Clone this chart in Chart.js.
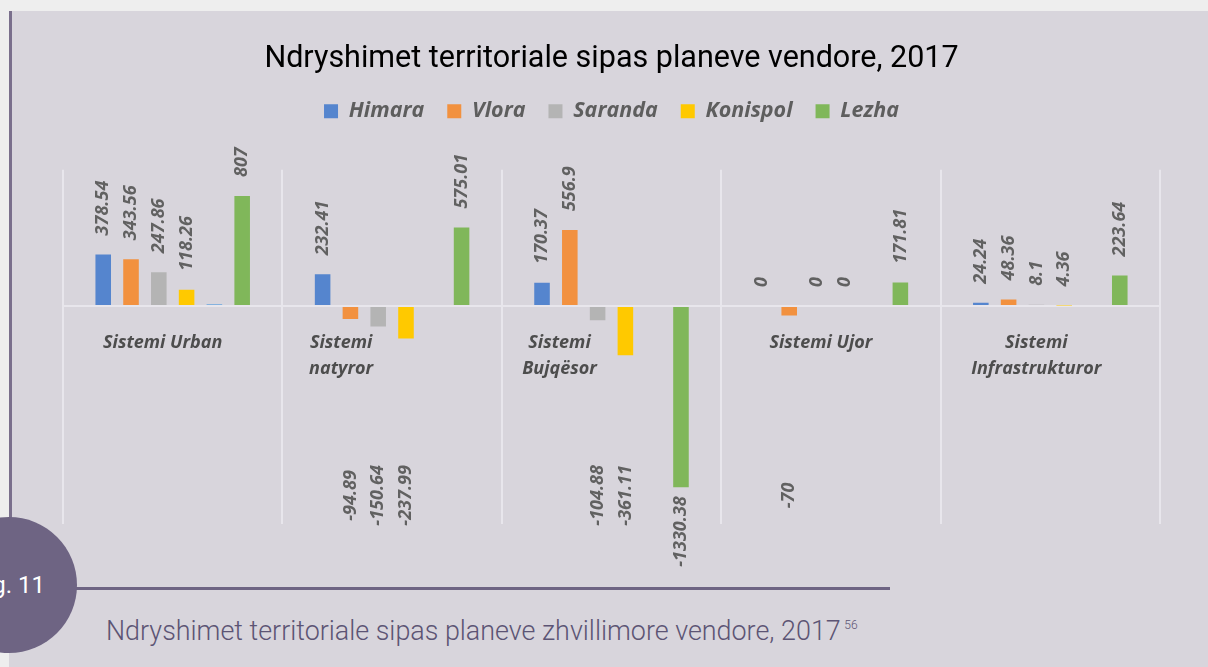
<!DOCTYPE html>
<html><head><meta charset="utf-8">
<script src="https://cdn.jsdelivr.net/npm/chart.js@4.4.0/dist/chart.umd.min.js"></script>
<style>
html,body{margin:0;padding:0;width:1208px;height:667px;overflow:hidden;background:#EEEEEE;}
#panel{position:absolute;left:9px;top:11px;width:1199px;height:656px;background:#D8D5DC;}
#vline{position:absolute;left:9px;top:11px;width:3px;height:510px;background:#7A6F8C;}
#hline{position:absolute;left:70px;top:587px;width:820px;height:3px;background:#6E6483;}
#circle{position:absolute;left:-59px;top:517px;width:136px;height:136px;border-radius:50%;background:#6E6483;color:#fff;font:24px Roboto;display:flex;align-items:center;justify-content:center;}
#caption{position:absolute;left:106px;top:615px;font:300 26.9px Roboto;color:#5C5474;white-space:nowrap;}
#caption sup{font-size:12px;vertical-align:11px;margin-left:-3px;}
#wrap{position:absolute;left:0;top:0;width:1208px;height:667px;}
</style></head>
<body>
<div id="panel"></div>
<div id="vline"></div>
<div id="hline"></div>
<div id="circle">Fig. 11</div>
<div id="caption">Ndryshimet territoriale sipas planeve zhvillimore vendore, 2017 <sup>56</sup></div>
<div id="wrap"><canvas id="c" width="1208" height="667"></canvas></div>
<script>
// ---- data ----
const categories = [['Sistemi Urban'], ['Sistemi', 'natyror'], ['Sistemi', 'Bujqësor'], ['Sistemi Ujor'], ['Sistemi', 'Infrastrukturor']];
const seriesNames = ['Himara', 'Vlora', 'Saranda', 'Konispol', '', 'Lezha'];
const himara   = [378.54, 232.41, 170.37, 0, 24.24];
const vlora    = [343.56, -94.89, 556.9, -70, 48.36];
const saranda  = [247.86, -150.64, -104.88, 0, 8.1];
const konispol = [118.26, -237.99, -361.11, 0, 4.36];
const other    = [12, null, null, null, null];
const lezha    = [807, 575.01, -1330.38, 171.81, 223.64];
const yMin = -1600, yMax = 1000;

// ---- style / layout ----
const colors = ['#5585CE', '#F2913F', '#B4B4B4', '#FFC900', '#6AA6DF', '#80B75A'];
const labelShift = [-10, -51, -52, -10, -14];
const negLabelCenter = -1390;

const values = [himara, vlora, saranda, konispol, other, lezha];
const datasets = values.map((d, i) => ({
  label: seriesNames[i],
  data: d,
  backgroundColor: colors[i],
  showLabels: seriesNames[i] !== '',
  categoryPercentage: 0.76,
  barPercentage: 0.56
}));

const valueLabels = {
  id: 'valueLabels',
  afterDatasetsDraw(chart) {
    const ctx = chart.ctx, ys = chart.scales.y;
    ctx.save();
    ctx.font = 'italic bold 18px "Open Sans"';
    ctx.fillStyle = '#616161';
    ctx.textBaseline = 'middle';
    ctx.textAlign = 'left';
    chart.data.datasets.forEach((ds, di) => {
      if (!ds.showLabels) return;
      const meta = chart.getDatasetMeta(di);
      meta.data.forEach((bar, i) => {
        const v = ds.data[i];
        if (v === null || v === undefined) return;
        const txt = String(v);
        const w = ctx.measureText(txt).width;
        let start;
        if (v >= 0) start = bar.y - 19;
        else {
          const c = ys.getPixelForValue(negLabelCenter);
          if (bar.y + 9 > c - w / 2) start = bar.y + 9 + w;
          else start = c + w / 2;
        }
        ctx.save();
        ctx.translate(bar.x, start);
        ctx.rotate(-Math.PI / 2);
        ctx.fillText(txt, 0, 0);
        ctx.restore();
      });
    });
    // category labels
    const xs = chart.scales.x, zero = ys.getPixelForValue(0);
    ctx.font = 'italic bold 18px "Open Sans"';
    ctx.fillStyle = '#4D4D4D';
    ctx.textAlign = 'center';
    categories.forEach((lines, i) => {
      const x = xs.getPixelForValue(i) + labelShift[i];
      lines.forEach((t, k) => ctx.fillText(t, x, zero + 37 + k * 26));
    });
    ctx.restore();
  }
};

new Chart(document.getElementById('c'), {
  type: 'bar',
  data: { labels: categories, datasets },
  options: {
    responsive: false,
    animation: false,
    layout: { padding: { left: 63, right: 48, top: 0, bottom: 143 } },
    plugins: {
      title: {
        display: true,
        text: 'Ndryshimet territoriale sipas planeve vendore, 2017',
        color: '#000',
        font: { family: 'Roboto', size: 30.5, weight: 'normal' },
        padding: { top: 41, bottom: 0 }
      },
      subtitle: {
        display: true,
        text: ' ',
        weight: 500,
        font: { size: 10, lineHeight: 1 },
        padding: { top: 7.6, bottom: 0 }
      },
      legend: {
        display: true,
        labels: {
          filter: item => item.text !== '',
          color: '#5E5E5E',
          font: { family: 'Open Sans', size: 21.5, style: 'italic', weight: 'bold' },
          boxWidth: 14, boxHeight: 14, padding: 23
        }
      },
      tooltip: { enabled: false }
    },
    scales: {
      x: {
        grid: { display: true, color: '#E8E6EC', lineWidth: 2, drawTicks: false, offset: true },
        ticks: { display: false },
        border: { display: false }
      },
      x2: {
        type: 'category', position: 'top', display: true,
        grid: { display: false }, ticks: { display: false }, border: { display: false },
        afterFit: s => { s.height = 20; }
      },
      y: {
        min: yMin, max: yMax,
        ticks: { display: false, stepSize: 200 },
        grid: { color: c => c.tick && c.tick.value === 0 ? '#E8E6EC' : 'rgba(0,0,0,0)', lineWidth: 2, drawTicks: false },
        border: { display: false }
      }
    }
  },
  plugins: [valueLabels]
});
</script>
</body></html>
